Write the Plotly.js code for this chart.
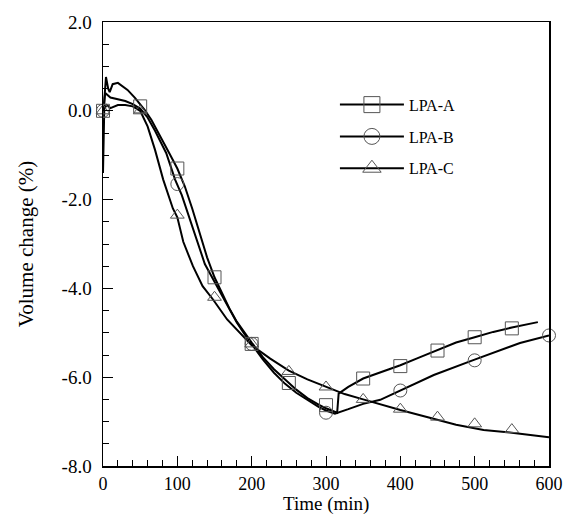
<!DOCTYPE html>
<html>
<head>
<meta charset="utf-8">
<script src="https://cdn.plot.ly/plotly-3.0.1.min.js"></script>
<style>html,body{margin:0;padding:0;background:#fff;}#chart{width:569px;height:515px;}</style>
</head>
<body>
<div id="chart"></div>
<script>
// Continuous curves
var timeA = [0, 1, 2, 4, 7, 9, 13, 20, 27, 33, 43, 50, 56, 65, 75, 89, 100, 110, 120, 130, 140, 150, 160, 170, 180, 190, 200, 215, 230, 245, 260, 275, 290, 300, 315, 317, 330, 350, 375, 400, 425, 450, 475, 500, 525, 550, 570, 585];
var volA  = [-1.4, -0.4, 0.3, 0.76, 0.5, 0.42, 0.6, 0.63, 0.55, 0.47, 0.29, 0.15, 0.02, -0.2, -0.5, -0.95, -1.3, -1.7, -2.2, -2.75, -3.3, -3.75, -4.1, -4.45, -4.75, -5.0, -5.22, -5.55, -5.82, -6.05, -6.28, -6.47, -6.62, -6.7, -6.8, -6.37, -6.22, -6.03, -5.88, -5.73, -5.56, -5.39, -5.22, -5.1, -4.98, -4.88, -4.81, -4.76];
var timeB = [0, 1, 3, 10, 20, 30, 40, 50, 60, 70, 85, 97, 106, 116, 126, 137, 150, 160, 170, 180, 190, 200, 215, 230, 245, 260, 275, 290, 300, 312, 330, 350, 373, 400, 445, 499, 534, 561, 600];
var volB  = [0.0, 0.2, 0.4, 0.3, 0.26, 0.22, 0.15, 0.05, -0.15, -0.45, -0.95, -1.55, -1.9, -2.4, -2.95, -3.45, -3.85, -4.15, -4.48, -4.77, -5.02, -5.25, -5.6, -5.9, -6.15, -6.35, -6.52, -6.67, -6.75, -6.82, -6.72, -6.6, -6.51, -6.3, -5.95, -5.61, -5.39, -5.23, -5.06];
var timeC = [0, 5, 10, 20, 30, 40, 50, 60, 70, 81, 94, 100, 108, 121, 134, 148, 167, 184, 200, 225, 250, 275, 300, 325, 350, 375, 400, 437, 475, 512, 550, 600];
var volC  = [0.0, 0.13, 0.06, 0.13, 0.13, 0.1, 0.0, -0.35, -0.88, -1.55, -2.2, -2.4, -2.95, -3.5, -3.95, -4.25, -4.7, -5.0, -5.28, -5.58, -5.85, -6.05, -6.22, -6.38, -6.5, -6.62, -6.74, -6.9, -7.07, -7.19, -7.25, -7.35];

// Marker points
var markTimeA = [0, 50, 100, 150, 200, 250, 300, 350, 400, 450, 500, 550];
var markVolA  = [0.0, 0.1, -1.3, -3.75, -5.25, -6.13, -6.63, -6.03, -5.75, -5.4, -5.1, -4.9];
var markTimeB = [0, 100, 200, 300, 400, 500, 600];
var markVolB  = [0.0, -1.65, -5.25, -6.8, -6.3, -5.62, -5.06];
var markTimeC = [0, 50, 100, 150, 200, 250, 300, 350, 400, 450, 500, 550];
var markVolC  = [0.0, 0.0, -2.35, -4.2, -5.25, -5.87, -6.22, -6.5, -6.72, -6.9, -7.05, -7.18];

var seriesNames = ['LPA-A', 'LPA-B', 'LPA-C'];
var xTickVals = [0, 100, 200, 300, 400, 500, 600];
var xTickText = ['0', '100', '200', '300', '400', '500', '600'];
var yTickVals = [-8, -6, -4, -2, 0, 2];
var yTickText = ['-8.0', '-6.0', '-4.0', '-2.0', '0.0', '2.0'];
var xTitle = 'Time (min)';
var yTitle = 'Volume change (%)';

var lineStyle = {color: '#000', width: 2};
var mColor = '#555';
var symbols = ['square-open', 'circle-open', 'triangle-up-open'];
var sizes = [13, 13, 12];

var lines = [[timeA, volA], [timeB, volB], [timeC, volC]];
var marks = [[markTimeA, markVolA], [markTimeB, markVolB], [markTimeC, markVolC]];

var traces = [];
for (var i = 0; i < 3; i++) {
  traces.push({x: lines[i][0], y: lines[i][1], mode: 'lines', line: lineStyle, showlegend: false, hoverinfo: 'skip'});
}
for (var i = 0; i < 3; i++) {
  traces.push({x: marks[i][0], y: marks[i][1], mode: 'markers', showlegend: false, cliponaxis: false,
    marker: {symbol: symbols[i], size: sizes[i], color: mColor, line: {width: 1, color: mColor}}});
}
for (var i = 0; i < 3; i++) {
  traces.push({x: [null], y: [null], mode: 'lines+markers', name: seriesNames[i], legendgroup: 'g' + i,
    line: lineStyle, marker: {symbol: symbols[i], size: 16, color: mColor, line: {width: 1, color: mColor}}});
}

var fam = 'Liberation Serif, Times New Roman, serif';
var layout = {
  width: 569, height: 515,
  margin: {l: 103, r: 20, t: 22, b: 49},
  paper_bgcolor: '#fff', plot_bgcolor: '#fff',
  font: {family: fam, color: '#000'},
  showlegend: true,
  legend: {x: 0.52, y: 0.852, xanchor: 'left', yanchor: 'top', bgcolor: 'rgba(0,0,0,0)',
    font: {family: fam, size: 16, color: '#000'}, itemwidth: 64, tracegroupgap: 8, traceorder: 'grouped'},
  xaxis: {
    range: [0, 600], showgrid: false, zeroline: false,
    showline: true, linecolor: '#000', linewidth: 1.5, mirror: true,
    tickmode: 'array', tickvals: xTickVals, ticktext: xTickText,
    ticks: 'inside', ticklen: 10, tickwidth: 1, tickcolor: '#000',
    minor: {dtick: 20, tick0: 0, ticks: 'inside', ticklen: 6, tickwidth: 1, tickcolor: '#000'},
    tickfont: {family: fam, size: 18, color: '#000'},
    ticklabelstandoff: 1,
    automargin: false
  },
  yaxis: {
    range: [-8, 2], showgrid: false, zeroline: false,
    showline: true, linecolor: '#000', linewidth: 1.5, mirror: true,
    tickmode: 'array', tickvals: yTickVals, ticktext: yTickText,
    ticks: 'inside', ticklen: 10, tickwidth: 1, tickcolor: '#000',
    minor: {dtick: 0.5, tick0: 0, ticks: 'inside', ticklen: 6, tickwidth: 1, tickcolor: '#000'},
    tickfont: {family: fam, size: 19, color: '#000'},
    ticklabelstandoff: 6,
    title: {text: yTitle, font: {family: fam, size: 21, color: '#000'}, standoff: 22},
    automargin: false
  },
  annotations: [{
    text: xTitle, xref: 'paper', yref: 'paper', x: 0.5, y: -0.112, xanchor: 'center', yanchor: 'bottom',
    showarrow: false, borderpad: 0, font: {family: fam, size: 19, color: '#000'}
  }]
};

Plotly.newPlot('chart', traces, layout, {displayModeBar: false, staticPlot: true});
</script>
</body>
</html>
